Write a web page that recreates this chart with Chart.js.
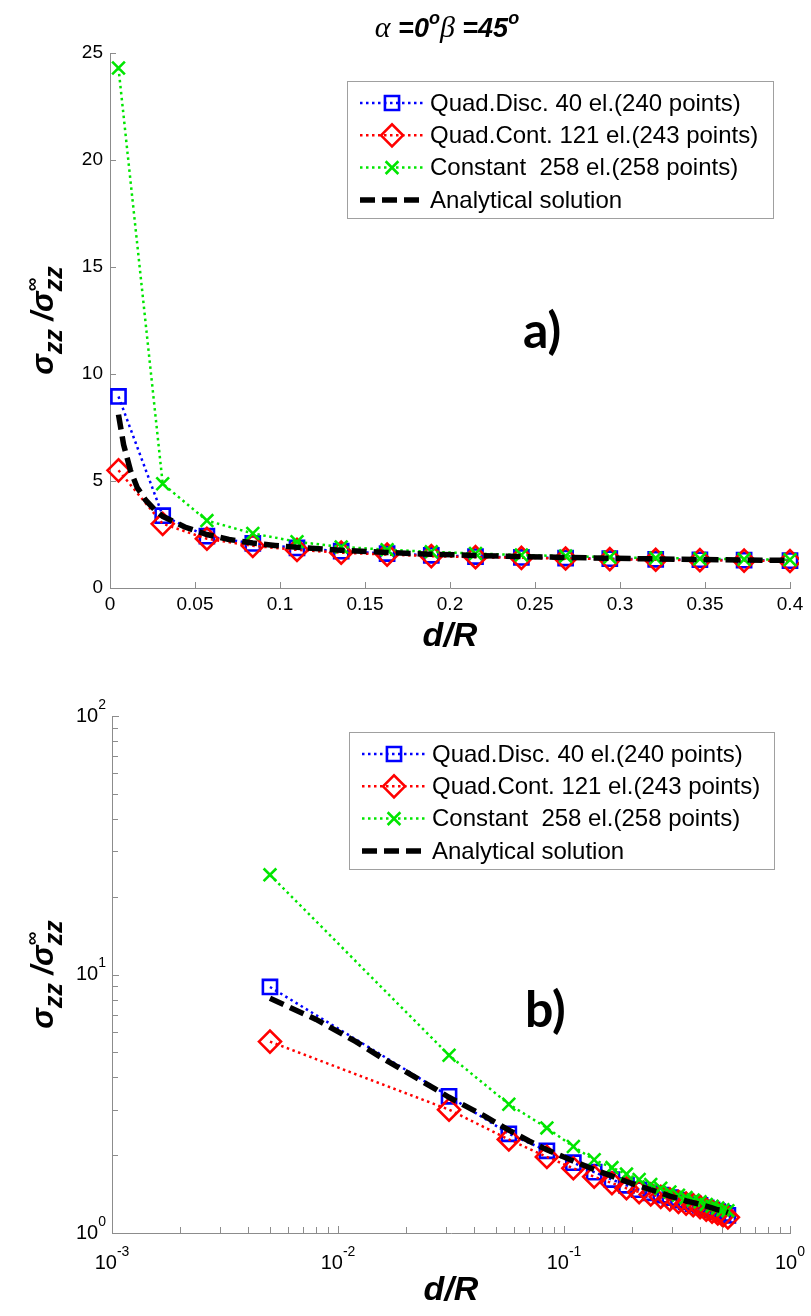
<!DOCTYPE html>
<html>
<head>
<meta charset="utf-8">
<title>sigma_zz near the crack tip</title>
<script src="https://cdn.jsdelivr.net/npm/chart.js@4.4.1/dist/chart.umd.min.js"></script>
<style>
    html, body { margin: 0; padding: 0; background: #fff; }
    .panel { position: absolute; left: 0; width: 811px; }
    #linPanel { top: 0; height: 660px; }
    #logPanel { top: 660px; height: 656px; }
</style>
</head>
<body>
<div class="panel" id="linPanel"><canvas id="linChart"></canvas></div>
<div class="panel" id="logPanel"><canvas id="logChart"></canvas></div>
<script>
// d/R sample positions of the BEM solutions
const dR = [0.005, 0.031, 0.057, 0.084, 0.110, 0.136, 0.163, 0.189, 0.215, 0.242, 0.268,
            0.294, 0.321, 0.347, 0.373, 0.400, 0.426, 0.452, 0.479, 0.505, 0.531];
const quadDisc = [8.95, 3.38, 2.42, 2.08, 1.87, 1.72, 1.61, 1.53, 1.47, 1.43, 1.40,
                  1.37, 1.34, 1.32, 1.30, 1.28, 1.25, 1.23, 1.21, 1.19, 1.17];
const quadCont = [5.50, 3.00, 2.30, 1.97, 1.78, 1.65, 1.56, 1.49, 1.44, 1.41, 1.38,
                  1.35, 1.32, 1.30, 1.28, 1.26, 1.23, 1.21, 1.19, 1.17, 1.15];
const constant = [24.3, 4.87, 3.15, 2.55, 2.16, 1.92, 1.79, 1.69, 1.61, 1.54, 1.49,
                  1.44, 1.40, 1.37, 1.34, 1.32, 1.29, 1.27, 1.25, 1.23, 1.22];

// analytical curve is sampled more densely near the tip
const analyticDR = [0.005, 0.008, 0.012, 0.016, 0.021, 0.027, 0.031, 0.044, 0.057, 0.070,
                    0.084, 0.097, 0.110, 0.136, 0.163, 0.189, 0.215, 0.242, 0.268, 0.294,
                    0.321, 0.347, 0.373, 0.400, 0.426, 0.452, 0.479, 0.505, 0.531];
const analytic = [8.10, 6.70, 5.50, 4.70, 4.10, 3.60, 3.35, 2.85, 2.50, 2.27,
                  2.10, 1.99, 1.90, 1.76, 1.66, 1.58, 1.52, 1.47, 1.43, 1.39,
                  1.36, 1.33, 1.31, 1.29, 1.27, 1.25, 1.23, 1.22, 1.20];

const seriesNames = ['Quad.Disc. 40 el.(240 points)', 'Quad.Cont. 121 el.(243 points)',
                     'Constant  258 el.(258 points)', 'Analytical solution'];

const linXTicks = ['0', '0.05', '0.1', '0.15', '0.2', '0.25', '0.3', '0.35', '0.4'];
const linYTicks = ['0', '5', '10', '15', '20', '25'];
const logXExp = [-3, -2, -1, 0];
const logYExp = [0, 1, 2];

var Figure = function () {

    //********************************************************************************//
    //                            Global variables
    //********************************************************************************//
    var SANS = '"Liberation Sans", Arial, sans-serif';
    var SERIF = '"Liberation Serif", "Times New Roman", serif';
    var AXIS = '#8c8c8c';
    var BLUE = '#0000ff', RED = '#ff0000', GREEN = '#00e600';

    Chart.defaults.font.family = SANS;
    Chart.defaults.color = '#000';

    var pairs = function (xs, ys) {
        return xs.map(function (x, i) { return { x: x, y: ys[i] }; });
    };

    var dotted = { borderWidth: 2.5, borderDash: [2.5, 3.5], pointBorderWidth: 2.6,
                   pointBackgroundColor: 'rgba(0,0,0,0)', pointHoverRadius: 0 };

    var makeDatasets = function () {
        return [
            Object.assign({ label: seriesNames[0], data: pairs(dR, quadDisc), borderColor: BLUE,
                pointBorderColor: BLUE, pointStyle: 'rect', pointRadius: 10, order: 3 }, dotted),
            Object.assign({ label: seriesNames[1], data: pairs(dR, quadCont), borderColor: RED,
                pointBorderColor: RED, pointStyle: 'rectRot', pointRadius: 11, order: 2 }, dotted),
            Object.assign({ label: seriesNames[2], data: pairs(dR, constant), borderColor: GREEN,
                pointBorderColor: GREEN, pointStyle: 'crossRot', pointRadius: 9, order: 1 }, dotted),
            { label: seriesNames[3], data: pairs(analyticDR, analytic), borderColor: '#000',
              borderWidth: 5.5, borderDash: [15, 7], pointRadius: 0, pointHoverRadius: 0, order: 0 }
        ];
    };

    //********************************************************************************//
    //                            Text helpers
    //********************************************************************************//
    // runs of text with their own font and baseline shift; "stack" runs don't advance x
    var drawRuns = function (ctx, runs, x, y, align) {
        var total = 0;
        runs.forEach(function (r) {
            ctx.font = r.font;
            r.w = ctx.measureText(r.text).width;
            if (!r.stack) total += r.w;
        });
        var cx = align === 'center' ? x - total / 2 : (align === 'right' ? x - total : x);
        ctx.textAlign = 'left';
        runs.forEach(function (r) {
            ctx.font = r.font;
            ctx.fillText(r.text, cx, y + (r.dy || 0));
            if (!r.stack) cx += r.w;
        });
    };

    var drawPow = function (ctx, exp, x, y, align) {
        ctx.textBaseline = 'middle';
        drawRuns(ctx, [
            { text: '10', font: '20px ' + SANS },
            { text: String(exp), font: '14px ' + SANS, dy: -11 }
        ], x, y, align);
    };

    var yTitleRuns = function () {
        var big = 'italic bold 31px ' + SANS, sub = 'italic bold 25px ' + SANS;
        return [
            { text: '\u03c3', font: big },
            { text: 'zz', font: sub, dy: 9 },
            { text: ' /', font: big },
            { text: '\u03c3', font: big },
            { text: '\u221e', font: 'bold 19px ' + SANS, dy: -15, stack: true },
            { text: 'zz', font: sub, dy: 9 }
        ];
    };

    //********************************************************************************//
    //                            Plugins
    //********************************************************************************//
    // MATLAB style tick marks pointing into the plot
    var inTicks = {
        id: 'inTicks',
        afterDatasetsDraw: function (chart, args, opts) {
            var ctx = chart.ctx, a = chart.chartArea;
            var xs = chart.scales.x, ys = chart.scales.y;
            ctx.save();
            ctx.strokeStyle = AXIS;
            ctx.lineWidth = 1;
            ctx.setLineDash([]);
            ctx.beginPath();
            opts.x.forEach(function (t) {
                var px = Math.round(xs.getPixelForValue(t[0])) + 0.5;
                ctx.moveTo(px, a.bottom);
                ctx.lineTo(px, a.bottom - t[1]);
            });
            opts.y.forEach(function (t) {
                var py = Math.round(ys.getPixelForValue(t[0])) + 0.5;
                ctx.moveTo(a.left, py);
                ctx.lineTo(a.left + t[1], py);
            });
            ctx.stroke();
            ctx.restore();
        }
    };

    var boxLegend = {
        id: 'boxLegend',
        afterDraw: function (chart, args, opts) {
            var ctx = chart.ctx, b = opts.box;
            var order = [0, 1, 2, 3];
            ctx.save();
            ctx.strokeStyle = '#a0a0a0';
            ctx.lineWidth = 1;
            ctx.setLineDash([]);
            ctx.fillStyle = '#fff';
            ctx.fillRect(b.x, b.y, b.w, b.h);
            ctx.strokeRect(b.x + 0.5, b.y + 0.5, b.w, b.h);
            order.forEach(function (k, i) {
                var ds = chart.data.datasets[k];
                var ry = b.y + 22 + i * 32.3;
                ctx.strokeStyle = ds.borderColor;
                ctx.lineWidth = ds.borderWidth;
                ctx.setLineDash(ds.borderDash);
                ctx.beginPath();
                ctx.moveTo(b.x + 13, ry);
                ctx.lineTo(b.x + 77, ry);
                ctx.stroke();
                if (ds.pointRadius > 0) {
                    ctx.setLineDash([]);
                    ctx.lineWidth = ds.pointBorderWidth;
                    ctx.strokeStyle = ds.pointBorderColor;
                    ctx.fillStyle = 'rgba(0,0,0,0)';
                    Chart.helpers.drawPoint(ctx, { pointStyle: ds.pointStyle, radius: ds.pointRadius,
                        rotation: 0, borderWidth: ds.pointBorderWidth }, b.x + 45, ry);
                }
                ctx.fillStyle = '#000';
                ctx.font = '24px ' + SANS;
                ctx.textAlign = 'left';
                ctx.textBaseline = 'middle';
                ctx.fillText(ds.label, b.x + 83, ry + 1);
            });
            ctx.restore();
        }
    };

    var annotations = {
        id: 'annotations',
        afterDraw: function (chart, args, opts) {
            var ctx = chart.ctx, a = chart.chartArea;
            ctx.save();
            ctx.fillStyle = '#000';
            ctx.textBaseline = 'alphabetic';
            // panel tag
            ctx.font = 'bold 50px Lato, "Open Sans", sans-serif';
            ctx.textAlign = 'left';
            ctx.fillText(opts.tag, opts.tagX, opts.tagY);
            // y-axis title
            ctx.translate(53, (a.top + a.bottom) / 2);
            ctx.rotate(-Math.PI / 2);
            drawRuns(ctx, yTitleRuns(), 0, 0, 'center');
            ctx.restore();

            if (opts.title) {
                ctx.save();
                ctx.fillStyle = '#000';
                ctx.textBaseline = 'alphabetic';
                var bi = 'italic bold 27px ' + SANS, sup = 'italic bold 18px ' + SANS;
                drawRuns(ctx, [
                    { text: '\u03b1', font: 'italic 30px ' + SERIF },
                    { text: ' =0', font: bi },
                    { text: 'o', font: sup, dy: -13 },
                    { text: '\u03b2', font: 'italic 30px ' + SERIF },
                    { text: ' =45', font: bi },
                    { text: 'o', font: sup, dy: -13 }
                ], 447, 37, 'center');
                ctx.restore();
            }

            if (opts.powLabels) {
                ctx.save();
                ctx.fillStyle = '#000';
                var xs = chart.scales.x, ys = chart.scales.y;
                logXExp.forEach(function (e) {
                    drawPow(ctx, e, xs.getPixelForValue(Math.pow(10, e)), a.bottom + 30, 'center');
                });
                logYExp.forEach(function (e) {
                    drawPow(ctx, e, a.left - 6, ys.getPixelForValue(Math.pow(10, e)), 'right');
                });
                ctx.restore();
            }
        }
    };

    //********************************************************************************//
    //                            Initializations
    //********************************************************************************//
    var axisTitle = function (pad) {
        return { display: true, text: 'd/R', color: '#000',
                 font: { size: 34, weight: 'bold', style: 'italic', family: SANS },
                 padding: { top: 0, bottom: pad } };
    };

    var initLinear = function () {
        var xt = linXTicks.map(function (s) { return [parseFloat(s), 6]; });
        var yt = linYTicks.map(function (s) { return [parseFloat(s), 6]; });
        new Chart(document.getElementById('linChart'), {
            type: 'line',
            data: { datasets: makeDatasets().map(function (d) {
                return Object.assign(d, { clip: { left: 14, top: 14, right: 9, bottom: 0 } });
            }) },
            options: {
                responsive: true, maintainAspectRatio: false, animation: false, devicePixelRatio: 1,
                layout: { padding: { left: 0, right: 21, top: 53, bottom: 0 } },
                scales: {
                    x: {
                        type: 'linear', min: 0, max: 0.4,
                        afterFit: function (s) { s.height = 72; },
                        grid: { display: false, drawTicks: false },
                        border: { color: AXIS, width: 1 },
                        ticks: { stepSize: 0.05, padding: 5, autoSkip: false, maxRotation: 0,
                                 font: { size: 19 }, color: '#000',
                                 callback: function (v, i) { return linXTicks[i]; } },
                        title: axisTitle(3)
                    },
                    y: {
                        type: 'linear', min: 0, max: 25,
                        afterFit: function (s) { s.width = 110; },
                        grid: { display: false, drawTicks: false },
                        border: { color: AXIS, width: 1 },
                        ticks: { stepSize: 5, padding: 7, font: { size: 19 }, color: '#000',
                                 callback: function (v, i) { return linYTicks[i]; } }
                    }
                },
                plugins: {
                    legend: { display: false },
                    tooltip: { enabled: false },
                    inTicks: { x: xt, y: yt },
                    boxLegend: { box: { x: 347, y: 81, w: 426, h: 137 } },
                    annotations: { tag: 'a)', tagX: 523, tagY: 348, title: true }
                }
            },
            plugins: [inTicks, boxLegend, annotations]
        });
    };

    var initLog = function () {
        var xt = [], yt = [];
        logXExp.forEach(function (e) {
            xt.push([Math.pow(10, e), 7]);
            if (e < 0) for (var m = 2; m < 10; m++) xt.push([m * Math.pow(10, e), 6]);
        });
        logYExp.forEach(function (e) {
            yt.push([Math.pow(10, e), 7]);
            if (e < 2) for (var m = 2; m < 10; m++) yt.push([m * Math.pow(10, e), 6]);
        });
        new Chart(document.getElementById('logChart'), {
            type: 'line',
            data: { datasets: makeDatasets() },
            options: {
                responsive: true, maintainAspectRatio: false, animation: false, devicePixelRatio: 1,
                layout: { padding: { left: 0, right: 21, top: 56, bottom: 0 } },
                scales: {
                    x: {
                        type: 'logarithmic', min: 0.001, max: 1,
                        afterBuildTicks: function (s) {
                            s.ticks = logXExp.map(function (e) { return { value: Math.pow(10, e) }; });
                        },
                        afterFit: function (s) { s.height = 83; },
                        grid: { display: false, drawTicks: false },
                        border: { color: AXIS, width: 1 },
                        ticks: { display: false },
                        title: axisTitle(5)
                    },
                    y: {
                        type: 'logarithmic', min: 1, max: 100,
                        afterBuildTicks: function (s) {
                            s.ticks = logYExp.map(function (e) { return { value: Math.pow(10, e) }; });
                        },
                        afterFit: function (s) { s.width = 112; },
                        grid: { display: false, drawTicks: false },
                        border: { color: AXIS, width: 1 },
                        ticks: { display: false }
                    }
                },
                plugins: {
                    legend: { display: false },
                    tooltip: { enabled: false },
                    inTicks: { x: xt, y: yt },
                    boxLegend: { box: { x: 349, y: 72, w: 425, h: 137 } },
                    annotations: { tag: 'b)', tagX: 525, tagY: 367, powLabels: true }
                }
            },
            plugins: [inTicks, boxLegend, annotations]
        });
    };

    return {
        init: function () {
            initLinear();
            initLog();
        }
    };
}();

window.addEventListener('load', function () {
    Figure.init();
});
</script>
</body>
</html>
